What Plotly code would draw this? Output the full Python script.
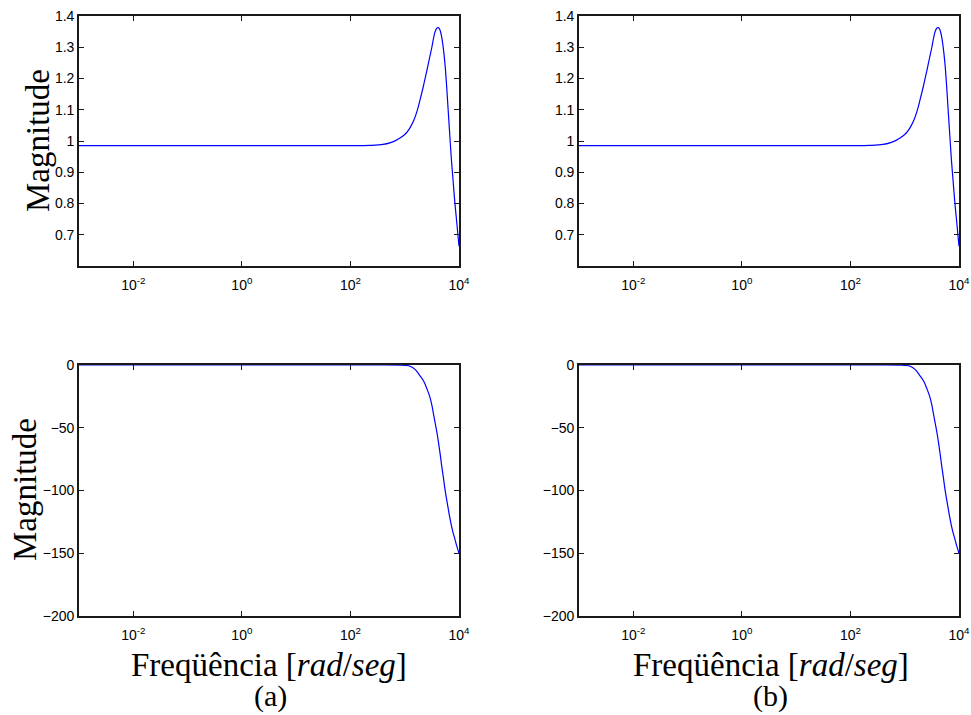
import plotly.graph_objects as go

# ---- data ----
freq_mag = [1e-3, 1e-2, 1e-1, 1, 10, 100, 229, 398, 550, 692, 832, 1000, 1122, 1288, 1479,
            1698, 1950, 2239, 2570, 2884, 3162, 3388, 3631, 3890, 4169, 4467, 4786,
            5129, 5495, 5888, 6310, 6761, 7244, 7762, 8318, 8913, 10000]
mag = [0.985, 0.985, 0.985, 0.985, 0.985, 0.985, 0.986, 0.989, 0.995, 1.002, 1.01, 1.021,
       1.03, 1.046, 1.067, 1.097, 1.137, 1.180, 1.227, 1.268, 1.30, 1.328, 1.35, 1.361,
       1.363, 1.355, 1.334, 1.298, 1.25, 1.182, 1.10, 1.02, 0.94, 0.875, 0.81, 0.755, 0.663]

freq_phase = [1e-3, 1e-2, 1e-1, 1, 10, 100, 316, 1000, 1259, 1549, 1905, 2239, 2570,
              2884, 3162, 3388, 3631, 3890, 4169, 4467, 4786, 5129, 5495, 5888, 6310,
              6761, 7244, 7762, 8318, 8913, 10000]
phase = [0, 0, 0, 0, 0, 0, 0, -0.3, -1, -3.5, -8.5, -13, -19, -25, -32, -39, -46, -53,
         -61, -70, -80, -89, -98.5, -106.5, -114, -121.5, -128, -133.5, -138, -143, -150]

x_tickvals = [1e-2, 1, 1e2, 1e4]
x_ticktext = ["10<sup>-2</sup>", "10<sup>0</sup>", "10<sup>2</sup>", "10<sup>4</sup>"]
mag_tickvals = [0.7, 0.8, 0.9, 1.0, 1.1, 1.2, 1.3, 1.4]
mag_ticktext = ["0.7", "0.8", "0.9", "1", "1.1", "1.2", "1.3", "1.4"]
phase_tickvals = [0, -50, -100, -150, -200]
phase_ticktext = ["0", "\u221250", "\u2212100", "\u2212150", "\u2212200"]

ylabel = "Magnitude"
xlabel = "Freqüência [<i>rad</i>/<i>seg</i>]"
panel_labels = ["(a)", "(b)"]

W, H = 971, 715
def px(x):
    return x / W
def py(y):
    return 1 - y / H

line = dict(color="#0000FF", width=1.2)

fig = go.Figure()
for ax_top, ax_bot in [("", "3"), ("2", "4")]:
    fig.add_trace(go.Scatter(x=freq_mag, y=mag, mode="lines", line=line, line_shape="spline",
                             xaxis="x" + ax_top, yaxis="y" + ax_top, showlegend=False))
    fig.add_trace(go.Scatter(x=freq_phase, y=phase, mode="lines", line=line, line_shape="spline",
                             xaxis="x" + ax_bot, yaxis="y" + ax_bot, showlegend=False))

tickfont = dict(family="Liberation Sans, Arial, sans-serif", size=14, color="black")
AXC = "#1a1a1a"

def xax(domain, anchor):
    return dict(type="log", range=[-3, 4], domain=domain, anchor=anchor,
                tickvals=x_tickvals, ticktext=x_ticktext, ticks="inside", ticklen=5,
                tickcolor=AXC, showline=True, linecolor=AXC, linewidth=1.6,
                mirror="ticks", showgrid=False, zeroline=False, tickfont=tickfont,
                automargin=False, layer="below traces", ticklabelstandoff=5,
                ticklabeloverflow="allow")

def yax(domain, anchor, rng, tv, tt):
    return dict(range=rng, domain=domain, anchor=anchor, tickvals=tv, ticktext=tt,
                ticks="inside", ticklen=5, tickcolor=AXC, showline=True,
                linecolor=AXC, linewidth=1.6, mirror="ticks", showgrid=False,
                zeroline=False, tickfont=tickfont, automargin=False, layer="below traces",
                ticklabeloverflow="allow")

colx = [[px(79), px(459)], [px(579), px(959)]]
rowy_top = [py(266), py(16)]
rowy_bot = [py(616), py(365)]

fig.update_layout(
    width=W, height=H, margin=dict(l=0, r=0, t=0, b=0),
    paper_bgcolor="white", plot_bgcolor="white", showlegend=False,
    xaxis=xax(colx[0], "y"), yaxis=yax(rowy_top, "x", [0.6, 1.4], mag_tickvals, mag_ticktext),
    xaxis2=xax(colx[1], "y2"), yaxis2=yax(rowy_top, "x2", [0.6, 1.4], mag_tickvals, mag_ticktext),
    xaxis3=xax(colx[0], "y3"), yaxis3=yax(rowy_bot, "x3", [-200, 0], phase_tickvals, phase_ticktext),
    xaxis4=xax(colx[1], "y4"), yaxis4=yax(rowy_bot, "x4", [-200, 0], phase_tickvals, phase_ticktext),
)

serif = dict(family="Liberation Serif, Times New Roman, serif", size=33, color="black")
serif_small = dict(family="Liberation Serif, Times New Roman, serif", size=30, color="black")
ann = [
    dict(text=ylabel, x=px(38), y=py(141), textangle=-90, font=serif),
    dict(text=ylabel, x=px(25), y=py(490), textangle=-90, font=serif),
    dict(text=xlabel, x=px(269), y=py(665), font=serif),
    dict(text=xlabel, x=px(771), y=py(665), font=serif),
    dict(text=panel_labels[0], x=px(270), y=py(696), font=serif_small),
    dict(text=panel_labels[1], x=px(770), y=py(696), font=serif_small),
]
for a in ann:
    a.update(xref="paper", yref="paper", showarrow=False, xanchor="center",
             yanchor="middle")
fig.update_layout(annotations=ann)

fig.write_html(
    "out.html",
    config={"displayModeBar": False},
    post_script=("document.body.style.margin='0';"
                 "document.body.style.overflow='hidden';"
                 "document.documentElement.style.overflow='hidden';"),
)
